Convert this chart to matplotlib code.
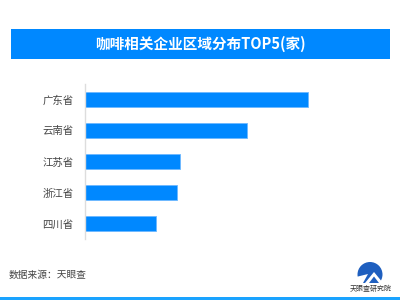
import matplotlib
matplotlib.use("Agg")
import matplotlib.pyplot as plt
from matplotlib.patches import Rectangle, Circle, Polygon

plt.rcParams['font.family'] = ['Noto Sans CJK SC', 'DejaVu Sans']

categories = ["广东省", "云南省", "江苏省", "浙江省", "四川省"]
values = [1000, 725, 427, 412, 322]
title = "咖啡相关企业区域分布TOP5(家)"
source = "数据来源：天眼查"
logo_text = "天眼查研究院"

W, H = 400, 300
fig = plt.figure(figsize=(4, 3), dpi=100)
fig.patch.set_facecolor("white")

def fx(px): return px / W
def fy(py): return 1 - py / H

# title banner
fig.patches.append(Rectangle((fx(11), fy(59)), fx(379), 30 / H, transform=fig.transFigure,
                             facecolor="#0088ff", edgecolor="none", zorder=0))
fig.text(fx(200), fy(44), title, color="white", fontsize=10.5, fontweight="bold",
         ha="center", va="center")

# axes
ax_left, ax_right = 84.5, 380
ax_top, ax_bot = 84, 239
ax = fig.add_axes([fx(ax_left), fy(ax_bot), fx(ax_right - ax_left), (ax_bot - ax_top) / H])
pxw = ax_right - ax_left
ax.barh(range(len(categories)), values, height=0.5, color="#0088ff", edgecolor="#6cb8ff",
        linewidth=0.6)
ax.set_xlim(0, max(values) * pxw / 223.5)
ax.set_ylim(len(categories) - 0.5, -0.5)
ax.set_yticks(range(len(categories)))
ax.set_yticklabels(categories, fontsize=7.5, color="#444444")
ax.tick_params(axis="y", length=0, pad=8)
ax.set_xticks([])
for s in ["top", "right", "bottom"]:
    ax.spines[s].set_visible(False)
ax.spines["left"].set_color("#dddddd")
ax.spines["left"].set_linewidth(1)

# footer
fig.text(fx(9), fy(275), source, fontsize=7, color="#444444", ha="left", va="center")
fig.patches.append(Rectangle((0, 0), 1, 3.5 / H, transform=fig.transFigure,
                             facecolor="#1aa3ff", edgecolor="none"))

# logo (small axes, pixel units)
lx0, ly0, lw, lh = 354, 261, 32, 22
lax = fig.add_axes([fx(lx0), fy(ly0 + lh), fx(lw), lh / H])
lax.set_xlim(0, lw)
lax.set_ylim(lh, 0)
lax.axis("off")
lax.add_patch(Circle((16, 13.5), 12.5, facecolor="#1f5fbf", edgecolor="none"))
lax.add_patch(Polygon([(11, 22), (20, 11), (29, 22), (25, 22), (20, 15.5), (15, 22)],
                      closed=True, facecolor="white", edgecolor="none"))
lax.add_patch(Polygon([(0, 22), (9, 22), (14, 13), (2, 16)], closed=True,
                      facecolor="white", edgecolor="none"))
fig.text(fx(371), fy(288.5), logo_text, fontsize=5, color="#333333", ha="center", va="center")

fig.savefig("out.png", dpi=100)
